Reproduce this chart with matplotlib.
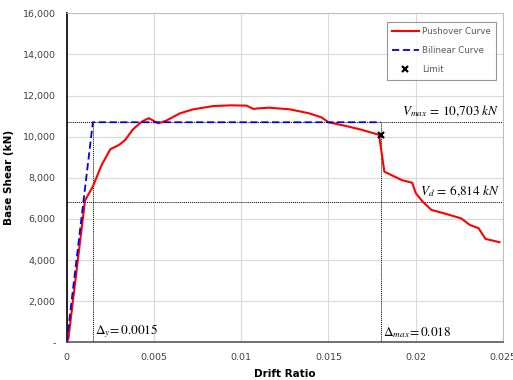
import matplotlib
matplotlib.use("Agg")
import matplotlib.pyplot as plt
from matplotlib.ticker import FuncFormatter, MultipleLocator

# pushover curve
drift = [0, 0.0001, 0.00105, 0.0015, 0.002, 0.0025, 0.003, 0.00335, 0.0038, 0.0043,
         0.0047, 0.00525, 0.0057, 0.0065, 0.00725, 0.0084, 0.0094, 0.0103, 0.0107,
         0.0110, 0.0116, 0.0128, 0.0139, 0.0146, 0.0150, 0.0160, 0.0168, 0.0179,
         0.0182, 0.0192, 0.0198, 0.0200, 0.0204, 0.0209, 0.0216, 0.0226, 0.0231,
         0.0236, 0.0240, 0.0248]
shear = [0, 200, 6900, 7580, 8620, 9390, 9600, 9840, 10360, 10730,
         10900, 10650, 10780, 11140, 11330, 11490, 11525, 11510, 11350,
         11380, 11410, 11330, 11135, 10940, 10700, 10520, 10360, 10090,
         8300, 7890, 7760, 7260, 6840, 6440, 6280, 6030, 5710,
         5550, 5030, 4870]

bilinear_x = [0, 0.0015, 0.018]
bilinear_y = [0, 10703, 10703]

limit_x = 0.018
limit_y = 10090
v_max = 10703
v_d = 6814
d_y = 0.0015
d_max = 0.018

plt.rcParams["mathtext.fontset"] = "stix"

fig = plt.figure(figsize=(5.13, 3.8), dpi=100)
ax = fig.add_axes([0.130, 0.099, 0.8505, 0.866])

ax.plot(drift, shear, color="#ff0000", lw=1.5, label="Pushover Curve", zorder=4)
ax.plot(bilinear_x, bilinear_y, color="#0000e6", lw=1.3, ls=(0, (4, 2)),
        label="Bilinear Curve", zorder=5)
ax.plot([limit_x], [limit_y], "x", color="black", ms=5, mew=1.6,
        label="Limit", zorder=6)

# dotted guide lines
ax.plot([0, 0.025], [v_max, v_max], color="black", lw=0.7, ls=(0, (1, 1)), zorder=3)
ax.plot([0, 0.025], [v_d, v_d], color="black", lw=0.7, ls=(0, (1, 1)), zorder=3)
ax.plot([d_y, d_y], [0, v_max], color="black", lw=0.7, ls=(0, (1, 1)), zorder=3)
ax.plot([d_max, d_max], [0, v_max], color="black", lw=0.7, ls=(0, (1, 1)), zorder=3)

ax.text(0.0248, v_max + 170, r"$V_{max}\,=\,10{,}703\ kN$", ha="right", va="bottom", fontsize=9.5)
ax.text(0.0248, v_d + 170, r"$V_d\,=\,6{,}814\ kN$", ha="right", va="bottom", fontsize=9.5)
ax.text(d_y + 0.0001, 130, r"$\Delta_y\!=0.0015$", ha="left", va="bottom", fontsize=9.5)
ax.text(d_max + 0.0001, 130, r"$\Delta_{max}\!=0.018$", ha="left", va="bottom", fontsize=9.5)

ax.set_xlim(0, 0.025)
ax.set_ylim(0, 16000)
ax.xaxis.set_major_locator(MultipleLocator(0.005))
ax.yaxis.set_major_locator(MultipleLocator(2000))
ax.xaxis.set_major_formatter(FuncFormatter(lambda v, p: "0" if v == 0 else ("%g" % round(v, 3))))
ax.yaxis.set_major_formatter(FuncFormatter(lambda v, p: "-" if v == 0 else "{:,.0f}".format(v)))
ax.tick_params(length=0, labelsize=6.8, labelcolor="#404040", pad=8)
ax.grid(color="#d9d9d9", lw=0.8)
ax.set_axisbelow(True)

for s in ["top", "right"]:
    ax.spines[s].set_color("#bfbfbf")
ax.spines["left"].set_color("black")
ax.spines["left"].set_linewidth(1.2)
ax.spines["bottom"].set_color("#595959")
ax.spines["bottom"].set_linewidth(1.2)

ax.set_xlabel("Drift Ratio", fontsize=7.5, fontweight="bold")
ax.xaxis.set_label_coords(0.5, -0.08)
ax.set_ylabel("Base Shear (kN)", fontsize=7.5, fontweight="bold", labelpad=6)

leg = ax.legend(loc="upper right", bbox_to_anchor=(0.984, 0.9735), fontsize=6.3,
                frameon=True, fancybox=False, edgecolor="#7f7f7f",
                labelspacing=1.15, handlelength=3.0, handletextpad=0.4,
                borderpad=0.6, borderaxespad=0)
leg.get_frame().set_linewidth(0.8)
for t in leg.get_texts():
    t.set_color("#595959")

fig.savefig("out.png", dpi=100)
